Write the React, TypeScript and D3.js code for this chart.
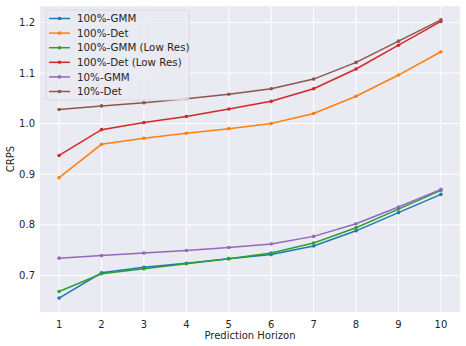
import React, { useEffect, useRef } from "react";
import * as d3 from "d3";

const horizons = [1, 2, 3, 4, 5, 6, 7, 8, 9, 10];
const yTicks = [0.7, 0.8, 0.9, 1.0, 1.1, 1.2];

const seriesNames = [
  "100%-GMM",
  "100%-Det",
  "100%-GMM (Low Res)",
  "100%-Det (Low Res)",
  "10%-GMM",
  "10%-Det",
];
const seriesColors = ["#1f77b4", "#ff7f0e", "#2ca02c", "#d62728", "#9467bd", "#8c564b"];

const gmmFull = [0.655, 0.705, 0.716, 0.724, 0.733, 0.741, 0.758, 0.788, 0.824, 0.860];
const detFull = [0.893, 0.959, 0.971, 0.981, 0.990, 1.000, 1.020, 1.054, 1.096, 1.142];
const gmmLowRes = [0.668, 0.703, 0.713, 0.723, 0.733, 0.744, 0.764, 0.794, 0.831, 0.868];
const detLowRes = [0.937, 0.988, 1.002, 1.014, 1.029, 1.044, 1.069, 1.108, 1.155, 1.202];
const gmmTen = [0.734, 0.739, 0.744, 0.749, 0.755, 0.762, 0.777, 0.802, 0.835, 0.870];
const detTen = [1.028, 1.035, 1.041, 1.049, 1.058, 1.069, 1.088, 1.121, 1.163, 1.205];

const seriesValues = [gmmFull, detFull, gmmLowRes, detLowRes, gmmTen, detTen];

const W = 466;
const H = 346;
const margin = { left: 40, right: 6, top: 6, bottom: 34 };

export default function App() {
  const ref = useRef<SVGSVGElement>(null);

  useEffect(() => {
    const svg = d3.select(ref.current);
    svg.selectAll("*").remove();
    const font = "DejaVu Sans, sans-serif";

    const x = d3.scaleLinear().domain([0.55, 10.45]).range([margin.left, W - margin.right]);
    const y = d3.scaleLinear().domain([0.6275, 1.2325]).range([H - margin.bottom, margin.top]);

    // plot background
    svg.append("rect")
      .attr("x", margin.left).attr("y", margin.top)
      .attr("width", W - margin.left - margin.right)
      .attr("height", H - margin.top - margin.bottom)
      .attr("fill", "#eaeaf2");

    // grid
    const grid = svg.append("g");
    grid.selectAll("line.vx").data(horizons).enter().append("line")
      .attr("x1", d => x(d)).attr("x2", d => x(d))
      .attr("y1", margin.top).attr("y2", H - margin.bottom)
      .attr("stroke", "#fff").attr("stroke-width", 1);
    grid.selectAll("line.hy").data(yTicks).enter().append("line")
      .attr("y1", d => y(d)).attr("y2", d => y(d))
      .attr("x1", margin.left).attr("x2", W - margin.right)
      .attr("stroke", "#fff").attr("stroke-width", 1);

    // tick labels
    svg.append("g").selectAll("text").data(horizons).enter().append("text")
      .attr("x", d => x(d)).attr("y", H - margin.bottom + 16)
      .attr("text-anchor", "middle")
      .attr("font-family", font).attr("font-size", 10).attr("fill", "#262626")
      .text(d => String(d));
    svg.append("g").selectAll("text").data(yTicks).enter().append("text")
      .attr("x", margin.left - 5).attr("y", d => y(d) + 3.5)
      .attr("text-anchor", "end")
      .attr("font-family", font).attr("font-size", 10).attr("fill", "#262626")
      .text(d => d3.format(".1f")(d));

    // axis titles
    svg.append("text")
      .attr("x", (margin.left + W - margin.right) / 2).attr("y", H - 7)
      .attr("text-anchor", "middle")
      .attr("font-family", font).attr("font-size", 10).attr("fill", "#262626")
      .text("Prediction Horizon");
    svg.append("text")
      .attr("transform", `translate(14,${(margin.top + H - margin.bottom) / 2}) rotate(-90)`)
      .attr("text-anchor", "middle")
      .attr("font-family", font).attr("font-size", 10).attr("fill", "#262626")
      .text("CRPS");

    // series lines and markers
    const line = d3.line<number>().x((_, i) => x(horizons[i])).y(d => y(d));
    seriesValues.forEach((vals, k) => {
      const g = svg.append("g");
      g.append("path").attr("d", line(vals)!)
        .attr("fill", "none").attr("stroke", seriesColors[k]).attr("stroke-width", 1.5);
      g.selectAll("circle").data(vals).enter().append("circle")
        .attr("cx", (_, i) => x(horizons[i])).attr("cy", d => y(d))
        .attr("r", 1.8).attr("fill", seriesColors[k]);
    });

    // legend
    const lg = svg.append("g").attr("transform", "translate(46,10)");
    lg.append("rect")
      .attr("width", 143).attr("height", 90).attr("rx", 2.5)
      .attr("fill", "#eaeaf2").attr("fill-opacity", 0.8)
      .attr("stroke", "#d5d5d5").attr("stroke-width", 0.8);
    seriesNames.forEach((name, k) => {
      const cy = 8.5 + k * 14.6;
      lg.append("line").attr("x1", 3).attr("x2", 24).attr("y1", cy).attr("y2", cy)
        .attr("stroke", seriesColors[k]).attr("stroke-width", 1.5);
      lg.append("circle").attr("cx", 13.5).attr("cy", cy).attr("r", 1.8).attr("fill", seriesColors[k]);
      lg.append("text").attr("x", 31).attr("y", cy + 3.6)
        .attr("font-family", font).attr("font-size", 10.3).attr("fill", "#262626")
        .text(name);
    });
  }, []);

  return (
    <svg ref={ref} width={W} height={H}
      style={{ position: "absolute", left: 0, top: 0, background: "#fff" }} />
  );
}
